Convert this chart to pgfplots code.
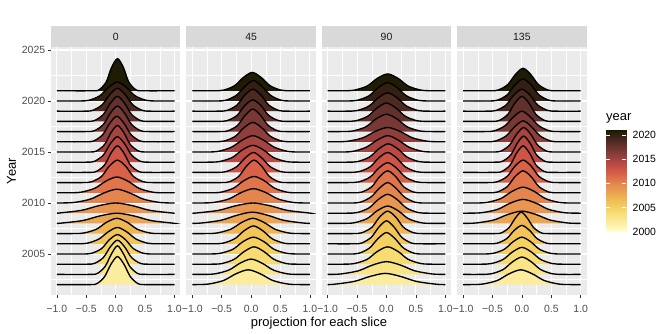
\documentclass[border=0pt]{standalone}
\usepackage{pgfplots}
\pgfplotsset{compat=1.18}
\usepackage{fontspec}
\setmainfont{Liberation Sans}

\definecolor{panelbg}{HTML}{EBEBEB}
\definecolor{stripbg}{HTML}{D9D9D9}
\definecolor{gray30}{HTML}{4D4D4D}
\definecolor{gray20}{HTML}{333333}
\definecolor{gray10}{HTML}{1A1A1A}
% ridge fills, one per year
\definecolor{c2002}{RGB}{251,236,158}
\definecolor{c2003}{RGB}{249,229,135}
\definecolor{c2004}{RGB}{247,220,115}
\definecolor{c2005}{RGB}{244,209,98}
\definecolor{c2006}{RGB}{241,197,88}
\definecolor{c2007}{RGB}{238,183,83}
\definecolor{c2008}{RGB}{235,166,81}
\definecolor{c2009}{RGB}{232,150,80}
\definecolor{c2010}{RGB}{228,133,78}
\definecolor{c2011}{RGB}{224,116,75}
\definecolor{c2012}{RGB}{216,98,72}
\definecolor{c2013}{RGB}{205,84,70}
\definecolor{c2014}{RGB}{187,74,68}
\definecolor{c2015}{RGB}{166,68,65}
\definecolor{c2016}{RGB}{143,62,60}
\definecolor{c2017}{RGB}{120,56,53}
\definecolor{c2018}{RGB}{99,49,44}
\definecolor{c2019}{RGB}{76,41,33}
\definecolor{c2020}{RGB}{52,32,18}
\definecolor{c2021}{RGB}{31,27,5}

\newcommand\ticksize{\fontsize{10.5}{12}\selectfont}
\newcommand\titlesize{\fontsize{13}{15}\selectfont}

% fill first, then the outline on top (no line along the baseline)
\newcommand\ridge[2]{%
  \addplot[draw=none, fill=#1, smooth] coordinates {#2} -- cycle;
  \addplot[black, line width=1.35bp, smooth] coordinates {#2};
}

\pgfplotsset{
  colormap={yr}{
    rgb255(0cm)=(255,254,203) rgb255(2cm)=(251,236,158) rgb255(4cm)=(247,220,115)
    rgb255(6cm)=(241,197,88) rgb255(8cm)=(235,166,81) rgb255(10cm)=(228,133,78)
    rgb255(12cm)=(216,98,72) rgb255(13cm)=(205,84,70) rgb255(14cm)=(187,74,68)
    rgb255(16cm)=(143,62,60) rgb255(18cm)=(99,49,44) rgb255(20cm)=(52,32,18)
    rgb255(21.2cm)=(25,25,0)},
  panel/.style={
    anchor=south west, scale only axis, width=129.4bp, height=248bp,
    xmin=-1.1, xmax=1.1, ymin=2000.98, ymax=2025.29,
    axis background/.style={fill=panelbg},
    axis line style={draw=none},
    xtick={-1,-0.5,0,0.5,1}, xticklabels={−1.0,−0.5,0.0,0.5,1.0},
    minor xtick={-0.75,-0.25,0.25,0.75},
    ytick={2005,2010,2015,2020,2025},
    minor ytick={2002.5,2007.5,2012.5,2017.5,2022.5},
    grid=both,
    major grid style={white, line width=1.1bp},
    minor grid style={white, line width=0.55bp},
    tick align=outside, major tick length=3.3bp, minor tick length=0pt,
    xtick pos=left, ytick pos=left,
    tick style={gray20, line width=0.55bp},
    xticklabel style={font=\ticksize, text=gray30, inner sep=0pt, anchor=north, yshift=-6.3bp},
    yticklabel style={font=\ticksize, text=gray30, inner sep=0pt, anchor=east, xshift=-2.3bp},
  },
  inner/.style={yticklabels={}, ytick style={draw=none}},
}

\begin{document}
\begin{tikzpicture}
\useasboundingbox (0,0) rectangle (668bp,334bp);

% ---- slice 0
\begin{axis}[panel, at={(51bp,39bp)}, yticklabels={2005,2010,2015,2020,2025}]
\ridge{c2021}{(-1,2021) (-0.39,2021) (-0.28,2021.11) (-0.16,2021.88) (-0.07,2023.29) (0.03,2024.15) (0.13,2023.29) (0.22,2021.88) (0.34,2021.11) (0.45,2021) (1,2021)}
\ridge{c2020}{(-1,2020) (-0.64,2020) (-0.46,2020.06) (-0.27,2020.51) (-0.12,2021.34) (0.03,2021.85) (0.18,2021.34) (0.33,2020.51) (0.52,2020.06) (0.7,2020) (1,2020)}
\ridge{c2019}{(-1,2019) (-0.53,2019) (-0.39,2019.08) (-0.23,2019.63) (-0.1,2020.63) (0.03,2021.25) (0.16,2020.63) (0.29,2019.63) (0.45,2019.08) (0.59,2019) (1,2019)}
\ridge{c2018}{(-1,2018) (-0.5,2018) (-0.36,2018.08) (-0.21,2018.68) (-0.09,2019.78) (0.03,2020.45) (0.15,2019.78) (0.27,2018.68) (0.42,2018.08) (0.56,2018) (1,2018)}
\ridge{c2017}{(-1,2017) (-0.5,2017) (-0.36,2017.09) (-0.21,2017.7) (-0.09,2018.82) (0.03,2019.5) (0.15,2018.82) (0.27,2017.7) (0.42,2017.09) (0.56,2017) (1,2017)}
\ridge{c2016}{(-1,2016) (-0.51,2016) (-0.37,2016.09) (-0.22,2016.7) (-0.1,2017.82) (0.02,2018.5) (0.14,2017.82) (0.26,2016.7) (0.41,2016.09) (0.55,2016) (1,2016)}
\ridge{c2015}{(-1,2015) (-0.46,2015) (-0.33,2015.09) (-0.19,2015.72) (-0.08,2016.89) (0.03,2017.6) (0.14,2016.89) (0.25,2015.72) (0.39,2015.09) (0.52,2015) (1,2015)}
\ridge{c2014}{(-1,2014) (-0.5,2014) (-0.36,2014.09) (-0.21,2014.7) (-0.09,2015.82) (0.03,2016.5) (0.15,2015.82) (0.27,2014.7) (0.42,2014.09) (0.56,2014) (1,2014)}
\ridge{c2013}{(-1,2013) (-0.46,2013) (-0.33,2013.09) (-0.19,2013.72) (-0.08,2014.89) (0.03,2015.6) (0.14,2014.89) (0.25,2013.72) (0.39,2013.09) (0.52,2013) (1,2013)}
\ridge{c2012}{(-1,2012) (-0.57,2012) (-0.41,2012.08) (-0.24,2012.61) (-0.11,2013.6) (0.03,2014.2) (0.17,2013.6) (0.3,2012.61) (0.47,2012.08) (0.63,2012) (1,2012)}
\ridge{c2011}{(-1,2011) (-0.82,2011) (-0.6,2011.05) (-0.36,2011.43) (-0.17,2012.13) (0.02,2012.55) (0.21,2012.13) (0.4,2011.43) (0.64,2011.05) (0.86,2011) (1,2011)}
\ridge{c2010}{(-1,2010) (-0.71,2010.05) (-0.43,2010.38) (-0.2,2010.98) (0.02,2011.35) (0.24,2010.98) (0.47,2010.38) (0.75,2010.05) (1,2010)}
\ridge{c2009}{(-1,2009) (-0.94,2009.03) (-0.58,2009.28) (-0.29,2009.73) (0,2010) (0.29,2009.73) (0.58,2009.28) (0.94,2009.03) (1,2009)}
\ridge{c2008}{(-1,2008) (-0.92,2008.03) (-0.56,2008.28) (-0.27,2008.73) (0.02,2009) (0.31,2008.73) (0.6,2008.28) (0.96,2008.03) (1,2008)}
\ridge{c2007}{(-1,2007) (-0.75,2007) (-0.55,2007.05) (-0.33,2007.42) (-0.16,2008.09) (0.02,2008.5) (0.2,2008.09) (0.37,2007.42) (0.59,2007.05) (0.79,2007) (1,2007)}
\ridge{c2006}{(-1,2006) (-0.67,2006) (-0.49,2006.05) (-0.29,2006.45) (-0.13,2007.16) (0.03,2007.6) (0.19,2007.16) (0.35,2006.45) (0.55,2006.05) (0.73,2006) (1,2006)}
\ridge{c2005}{(-1,2005) (-0.57,2005) (-0.41,2005.07) (-0.24,2005.53) (-0.11,2006.38) (0.03,2006.9) (0.17,2006.38) (0.3,2005.53) (0.47,2005.07) (0.63,2005) (1,2005)}
\ridge{c2004}{(-1,2004) (-0.5,2004) (-0.36,2004.08) (-0.21,2004.65) (-0.09,2005.71) (0.03,2006.35) (0.15,2005.71) (0.27,2004.65) (0.42,2004.08) (0.56,2004) (1,2004)}
\ridge{c2003}{(-1,2003) (-0.43,2003) (-0.31,2003.1) (-0.18,2003.78) (-0.07,2005.03) (0.03,2005.8) (0.13,2005.03) (0.24,2003.78) (0.37,2003.1) (0.49,2003) (1,2003)}
\ridge{c2002}{(-1,2002) (-0.44,2002) (-0.32,2002.09) (-0.19,2002.77) (-0.08,2004.0) (0.03,2004.75) (0.14,2004.0) (0.25,2002.77) (0.38,2002.09) (0.5,2002) (1,2002)}
\end{axis}

% ---- slice 45
\begin{axis}[panel, inner, at={(186.4bp,39bp)}]
\ridge{c2021}{(-1,2021) (-0.65,2021) (-0.47,2021.06) (-0.28,2021.5) (-0.13,2022.31) (0.02,2022.8) (0.17,2022.31) (0.32,2021.5) (0.51,2021.06) (0.69,2021) (1,2021)}
\ridge{c2020}{(-1,2020) (-0.59,2020) (-0.43,2020.07) (-0.25,2020.56) (-0.1,2021.45) (0.04,2022) (0.18,2021.45) (0.33,2020.56) (0.51,2020.07) (0.67,2020) (1,2020)}
\ridge{c2019}{(-1,2019) (-0.57,2019) (-0.41,2019.07) (-0.24,2019.6) (-0.11,2020.56) (0.03,2021.15) (0.17,2020.56) (0.3,2019.6) (0.47,2019.07) (0.63,2019) (1,2019)}
\ridge{c2018}{(-1,2018) (-0.57,2018) (-0.41,2018.07) (-0.24,2018.58) (-0.11,2019.53) (0.03,2020.1) (0.17,2019.53) (0.3,2018.58) (0.47,2018.07) (0.63,2018) (1,2018)}
\ridge{c2017}{(-1,2017) (-0.53,2017) (-0.39,2017.08) (-0.23,2017.61) (-0.1,2018.6) (0.03,2019.2) (0.16,2018.6) (0.29,2017.61) (0.45,2017.08) (0.59,2017) (1,2017)}
\ridge{c2016}{(-1,2016) (-0.64,2016) (-0.46,2016.07) (-0.27,2016.53) (-0.12,2017.38) (0.03,2017.9) (0.18,2017.38) (0.33,2016.53) (0.52,2016.07) (0.7,2016) (1,2016)}
\ridge{c2015}{(-1,2015) (-0.78,2015) (-0.57,2015.05) (-0.34,2015.45) (-0.15,2016.16) (0.03,2016.6) (0.21,2016.16) (0.4,2015.45) (0.63,2015.05) (0.84,2015) (1,2015)}
\ridge{c2014}{(-1,2014) (-0.74,2014) (-0.54,2014.06) (-0.32,2014.46) (-0.15,2015.2) (0.03,2015.65) (0.21,2015.2) (0.38,2014.46) (0.6,2014.06) (0.8,2014) (1,2014)}
\ridge{c2013}{(-1,2013) (-0.59,2013) (-0.43,2013.07) (-0.25,2013.54) (-0.1,2014.42) (0.04,2014.95) (0.18,2014.42) (0.33,2013.54) (0.51,2013.07) (0.67,2013) (1,2013)}
\ridge{c2012}{(-1,2012) (-0.51,2012) (-0.37,2012.08) (-0.21,2012.61) (-0.08,2013.6) (0.05,2014.2) (0.18,2013.6) (0.31,2012.61) (0.47,2012.08) (0.61,2012) (1,2012)}
\ridge{c2011}{(-1,2011) (-0.72,2011) (-0.52,2011.05) (-0.3,2011.45) (-0.13,2012.16) (0.05,2012.6) (0.23,2012.16) (0.4,2011.45) (0.62,2011.05) (0.82,2011) (1,2011)}
\ridge{c2010}{(-1,2010) (-0.87,2010) (-0.64,2010.05) (-0.38,2010.39) (-0.17,2011.02) (0.04,2011.4) (0.25,2011.02) (0.46,2010.39) (0.72,2010.05) (0.95,2010) (1,2010)}
\ridge{c2009}{(-1,2009) (-0.91,2009.03) (-0.55,2009.28) (-0.26,2009.73) (0.03,2010) (0.32,2009.73) (0.61,2009.28) (0.97,2009.03) (1,2009)}
\ridge{c2008}{(-1,2008) (-0.84,2008.04) (-0.51,2008.31) (-0.24,2008.8) (0.02,2009.1) (0.28,2008.8) (0.55,2008.31) (0.88,2008.04) (1,2008)}
\ridge{c2007}{(-1,2007) (-0.81,2007) (-0.59,2007.05) (-0.35,2007.42) (-0.16,2008.09) (0.03,2008.5) (0.22,2008.09) (0.41,2007.42) (0.65,2007.05) (0.87,2007) (1,2007)}
\ridge{c2006}{(-1,2006) (-0.66,2006) (-0.48,2006.06) (-0.28,2006.49) (-0.12,2007.27) (0.04,2007.75) (0.2,2007.27) (0.36,2006.49) (0.56,2006.06) (0.74,2006) (1,2006)}
\ridge{c2005}{(-1,2005) (-0.73,2005) (-0.53,2005.06) (-0.31,2005.46) (-0.14,2006.2) (0.04,2006.65) (0.22,2006.2) (0.39,2005.46) (0.61,2005.06) (0.81,2005) (1,2005)}
\ridge{c2004}{(-1,2004) (-0.69,2004) (-0.5,2004.06) (-0.29,2004.47) (-0.12,2005.23) (0.05,2005.7) (0.22,2005.23) (0.39,2004.47) (0.6,2004.06) (0.79,2004) (1,2004)}
\ridge{c2003}{(-1,2003) (-0.84,2003) (-0.62,2003.05) (-0.38,2003.42) (-0.19,2004.09) (0,2004.5) (0.19,2004.09) (0.38,2003.42) (0.62,2003.05) (0.84,2003) (1,2003)}
\ridge{c2002}{(-1,2002) (-0.73,2002.05) (-0.47,2002.4) (-0.26,2003.05) (-0.05,2003.45) (0.16,2003.05) (0.37,2002.4) (0.63,2002.05) (0.86,2002) (1,2002)}
\end{axis}

% ---- slice 90
\begin{axis}[panel, inner, at={(321.8bp,39bp)}]
\ridge{c2021}{(-1,2021) (-0.75,2021) (-0.55,2021.06) (-0.33,2021.46) (-0.16,2022.2) (0.02,2022.65) (0.2,2022.2) (0.37,2021.46) (0.59,2021.06) (0.79,2021) (1,2021)}
\ridge{c2020}{(-1,2020) (-0.68,2020) (-0.5,2020.06) (-0.3,2020.5) (-0.14,2021.31) (0.02,2021.8) (0.18,2021.31) (0.34,2020.5) (0.54,2020.06) (0.72,2020) (1,2020)}
\ridge{c2019}{(-1,2019) (-0.68,2019) (-0.5,2019.06) (-0.3,2019.5) (-0.14,2020.31) (0.02,2020.8) (0.18,2020.31) (0.34,2019.5) (0.54,2019.06) (0.72,2019) (1,2019)}
\ridge{c2018}{(-1,2018) (-0.7,2018) (-0.52,2018.06) (-0.32,2018.5) (-0.16,2019.31) (0,2019.8) (0.16,2019.31) (0.32,2018.5) (0.52,2018.06) (0.7,2018) (1,2018)}
\ridge{c2017}{(-1,2017) (-0.77,2017) (-0.57,2017.06) (-0.35,2017.47) (-0.18,2018.23) (0,2018.7) (0.18,2018.23) (0.35,2017.47) (0.57,2017.06) (0.77,2017) (1,2017)}
\ridge{c2016}{(-1,2016) (-0.89,2016) (-0.66,2016.05) (-0.4,2016.39) (-0.19,2017.02) (0.02,2017.4) (0.23,2017.02) (0.44,2016.39) (0.7,2016.05) (0.93,2016) (1,2016)}
\ridge{c2015}{(-1,2015) (-0.79,2015) (-0.58,2015.05) (-0.35,2015.45) (-0.16,2016.16) (0.02,2016.6) (0.2,2016.16) (0.39,2015.45) (0.62,2015.05) (0.83,2015) (1,2015)}
\ridge{c2014}{(-1,2014) (-0.67,2014) (-0.49,2014.06) (-0.29,2014.5) (-0.13,2015.31) (0.03,2015.8) (0.19,2015.31) (0.35,2014.5) (0.55,2014.06) (0.73,2014) (1,2014)}
\ridge{c2013}{(-1,2013) (-0.65,2013) (-0.47,2013.07) (-0.28,2013.54) (-0.13,2014.42) (0.02,2014.95) (0.17,2014.42) (0.32,2013.54) (0.51,2013.07) (0.69,2013) (1,2013)}
\ridge{c2012}{(-1,2012) (-0.65,2012) (-0.47,2012.07) (-0.28,2012.54) (-0.13,2013.42) (0.02,2013.95) (0.17,2013.42) (0.32,2012.54) (0.51,2012.07) (0.69,2012) (1,2012)}
\ridge{c2011}{(-1,2011) (-0.58,2011) (-0.42,2011.07) (-0.25,2011.6) (-0.12,2012.56) (0.02,2013.15) (0.16,2012.56) (0.29,2011.6) (0.46,2011.07) (0.62,2011) (1,2011)}
\ridge{c2010}{(-1,2010) (-0.61,2010) (-0.45,2010.07) (-0.27,2010.56) (-0.12,2011.45) (0.02,2012) (0.16,2011.45) (0.31,2010.56) (0.49,2010.07) (0.65,2010) (1,2010)}
\ridge{c2009}{(-1,2009) (-0.68,2009) (-0.5,2009.06) (-0.3,2009.51) (-0.14,2010.34) (0.02,2010.85) (0.18,2010.34) (0.34,2009.51) (0.54,2009.06) (0.72,2009) (1,2009)}
\ridge{c2008}{(-1,2008) (-0.75,2008) (-0.55,2008.06) (-0.33,2008.47) (-0.16,2009.23) (0.02,2009.7) (0.2,2009.23) (0.37,2008.47) (0.59,2008.06) (0.79,2008) (1,2008)}
\ridge{c2007}{(-1,2007) (-0.58,2007) (-0.42,2007.08) (-0.25,2007.61) (-0.12,2008.6) (0.02,2009.2) (0.16,2008.6) (0.29,2007.61) (0.46,2007.08) (0.62,2007) (1,2007)}
\ridge{c2006}{(-1,2006) (-0.56,2006) (-0.42,2006.08) (-0.26,2006.63) (-0.13,2007.63) (0,2008.25) (0.13,2007.63) (0.26,2006.63) (0.42,2006.08) (0.56,2006) (1,2006)}
\ridge{c2005}{(-1,2005) (-0.63,2005) (-0.47,2005.07) (-0.29,2005.58) (-0.14,2006.53) (0,2007.1) (0.14,2006.53) (0.29,2005.58) (0.47,2005.07) (0.63,2005) (1,2005)}
\ridge{c2004}{(-1,2004) (-0.75,2004) (-0.55,2004.06) (-0.33,2004.47) (-0.16,2005.23) (0.02,2005.7) (0.2,2005.23) (0.37,2004.47) (0.59,2004.06) (0.79,2004) (1,2004)}
\ridge{c2003}{(-1,2003) (-0.78,2003.04) (-0.48,2003.35) (-0.24,2003.91) (0,2004.25) (0.24,2003.91) (0.48,2003.35) (0.78,2003.04) (1,2003)}
\ridge{c2002}{(-1,2002) (-0.88,2002.04) (-0.55,2002.31) (-0.28,2002.8) (-0.02,2003.1) (0.24,2002.8) (0.51,2002.31) (0.84,2002.04) (1,2002)}
\end{axis}

% ---- slice 135
\begin{axis}[panel, inner, at={(457.2bp,39bp)}]
\ridge{c2021}{(-1,2021) (-0.54,2021) (-0.4,2021.08) (-0.24,2021.61) (-0.11,2022.6) (0.02,2023.2) (0.15,2022.6) (0.28,2021.61) (0.44,2021.08) (0.58,2021) (1,2021)}
\ridge{c2020}{(-1,2020) (-0.58,2020) (-0.42,2020.07) (-0.25,2020.6) (-0.12,2021.56) (0.02,2022.15) (0.16,2021.56) (0.29,2020.6) (0.46,2020.07) (0.62,2020) (1,2020)}
\ridge{c2019}{(-1,2019) (-0.6,2019) (-0.44,2019.07) (-0.27,2019.6) (-0.14,2020.56) (0,2021.15) (0.14,2020.56) (0.27,2019.6) (0.44,2019.07) (0.6,2019) (1,2019)}
\ridge{c2018}{(-1,2018) (-0.53,2018) (-0.39,2018.08) (-0.24,2018.68) (-0.12,2019.78) (0,2020.45) (0.12,2019.78) (0.24,2018.68) (0.39,2018.08) (0.53,2018) (1,2018)}
\ridge{c2017}{(-1,2017) (-0.63,2017) (-0.47,2017.07) (-0.29,2017.56) (-0.14,2018.45) (0,2019) (0.14,2018.45) (0.29,2017.56) (0.47,2017.07) (0.63,2017) (1,2017)}
\ridge{c2016}{(-1,2016) (-0.61,2016) (-0.45,2016.07) (-0.27,2016.57) (-0.12,2017.49) (0.02,2018.05) (0.16,2017.49) (0.31,2016.57) (0.49,2016.07) (0.65,2016) (1,2016)}
\ridge{c2015}{(-1,2015) (-0.5,2015) (-0.36,2015.08) (-0.21,2015.67) (-0.09,2016.74) (0.03,2017.4) (0.15,2016.74) (0.27,2015.67) (0.42,2015.08) (0.56,2015) (1,2015)}
\ridge{c2014}{(-1,2014) (-0.46,2014) (-0.33,2014.09) (-0.19,2014.71) (-0.08,2015.85) (0.03,2016.55) (0.14,2015.85) (0.25,2014.71) (0.39,2014.09) (0.52,2014) (1,2014)}
\ridge{c2013}{(-1,2013) (-0.47,2013) (-0.34,2013.09) (-0.2,2013.72) (-0.09,2014.89) (0.02,2015.6) (0.13,2014.89) (0.24,2013.72) (0.38,2013.09) (0.51,2013) (1,2013)}
\ridge{c2012}{(-1,2012) (-0.58,2012) (-0.42,2012.08) (-0.25,2012.61) (-0.12,2013.6) (0.02,2014.2) (0.16,2013.6) (0.29,2012.61) (0.46,2012.08) (0.62,2012) (1,2012)}
\ridge{c2011}{(-1,2011) (-0.58,2011) (-0.42,2011.07) (-0.25,2011.6) (-0.12,2012.56) (0.02,2013.15) (0.16,2012.56) (0.29,2011.6) (0.46,2011.07) (0.62,2011) (1,2011)}
\ridge{c2010}{(-1,2010) (-0.82,2010) (-0.6,2010.05) (-0.36,2010.43) (-0.17,2011.13) (0.02,2011.55) (0.21,2011.13) (0.4,2010.43) (0.64,2010.05) (0.86,2010) (1,2010)}
\ridge{c2009}{(-1,2009) (-0.93,2009) (-0.68,2009.05) (-0.41,2009.38) (-0.2,2009.98) (0.02,2010.35) (0.24,2009.98) (0.45,2009.38) (0.72,2009.05) (0.97,2009) (1,2009)}
\ridge{c2008}{(-1,2008) (-0.78,2008.04) (-0.48,2008.33) (-0.24,2008.87) (0,2009.2) (0.24,2008.87) (0.48,2008.33) (0.78,2008.04) (1,2008)}
\ridge{c2007}{(-1,2007) (-0.47,2007) (-0.35,2007.07) (-0.22,2007.58) (-0.11,2008.53) (-0.01,2009.1) (0.09,2008.53) (0.2,2007.58) (0.33,2007.07) (0.45,2007) (1,2007)}
\ridge{c2006}{(-1,2006) (-0.56,2006) (-0.42,2006.06) (-0.26,2006.5) (-0.13,2007.31) (0,2007.8) (0.13,2007.31) (0.26,2006.5) (0.42,2006.06) (0.56,2006) (1,2006)}
\ridge{c2005}{(-1,2005) (-0.67,2005) (-0.49,2005.06) (-0.3,2005.46) (-0.15,2006.2) (0,2006.65) (0.15,2006.2) (0.3,2005.46) (0.49,2005.06) (0.67,2005) (1,2005)}
\ridge{c2004}{(-1,2004) (-0.7,2004) (-0.52,2004.06) (-0.32,2004.46) (-0.16,2005.2) (0,2005.65) (0.16,2005.2) (0.32,2004.46) (0.52,2004.06) (0.7,2004) (1,2004)}
\ridge{c2003}{(-1,2003) (-0.7,2003) (-0.52,2003.06) (-0.32,2003.47) (-0.16,2004.23) (0,2004.7) (0.16,2004.23) (0.32,2003.47) (0.52,2003.06) (0.7,2003) (1,2003)}
\ridge{c2002}{(-1,2002) (-0.9,2002) (-0.67,2002.05) (-0.42,2002.4) (-0.22,2003.05) (-0.02,2003.45) (0.18,2003.05) (0.38,2002.4) (0.63,2002.05) (0.86,2002) (1,2002)}
\end{axis}

% ---- colour bar for year (gradient rows at the colormap stops)
\begin{axis}[at={(606bp,102.5bp)}, anchor=south west, scale only axis,
  width=20bp, height=102bp, xmin=0, xmax=1, ymin=2000, ymax=2021.2,
  axis line style={draw=none}, axis on top, xtick=\empty,
  ytick={2000,2005,2010,2015,2020}, yticklabels={2000,2005,2010,2015,2020},
  tick align=inside, major tick length=4bp,
  ytick pos=both, yticklabel pos=right,
  tick style={white, line width=0.55bp},
  yticklabel style={font=\ticksize, text=black, inner sep=0pt, anchor=west, xshift=6.5bp},
  colormap name=yr, point meta min=2000, point meta max=2021.2]
\addplot[surf, shader=interp, point meta=y] coordinates {
(0,2000) (1,2000)

(0,2002) (1,2002)

(0,2004) (1,2004)

(0,2006) (1,2006)

(0,2008) (1,2008)

(0,2010) (1,2010)

(0,2012) (1,2012)

(0,2013) (1,2013)

(0,2014) (1,2014)

(0,2016) (1,2016)

(0,2018) (1,2018)

(0,2020) (1,2020)

(0,2021.2) (1,2021.2)
};
\end{axis}

% strips, titles
\foreach \x/\c/\lab in {51/115.7/0, 186.4/251.1/45, 321.8/386.5/90, 457.2/521.9/135} {
  \fill[stripbg] (\x bp,287bp) rectangle ++(129.4bp,21bp);
  \node[font=\ticksize, text=gray10, inner sep=0pt] at (\c bp,297.5bp) {\lab};
}
\node[font=\titlesize, rotate=90, inner sep=0pt] at (11.5bp,163bp) {Year};
\node[font=\titlesize, inner sep=0pt] at (319bp,11bp) {projection for each slice};
\node[font=\titlesize, inner sep=0pt, anchor=west] at (606bp,216bp) {year};
\end{tikzpicture}
\end{document}
